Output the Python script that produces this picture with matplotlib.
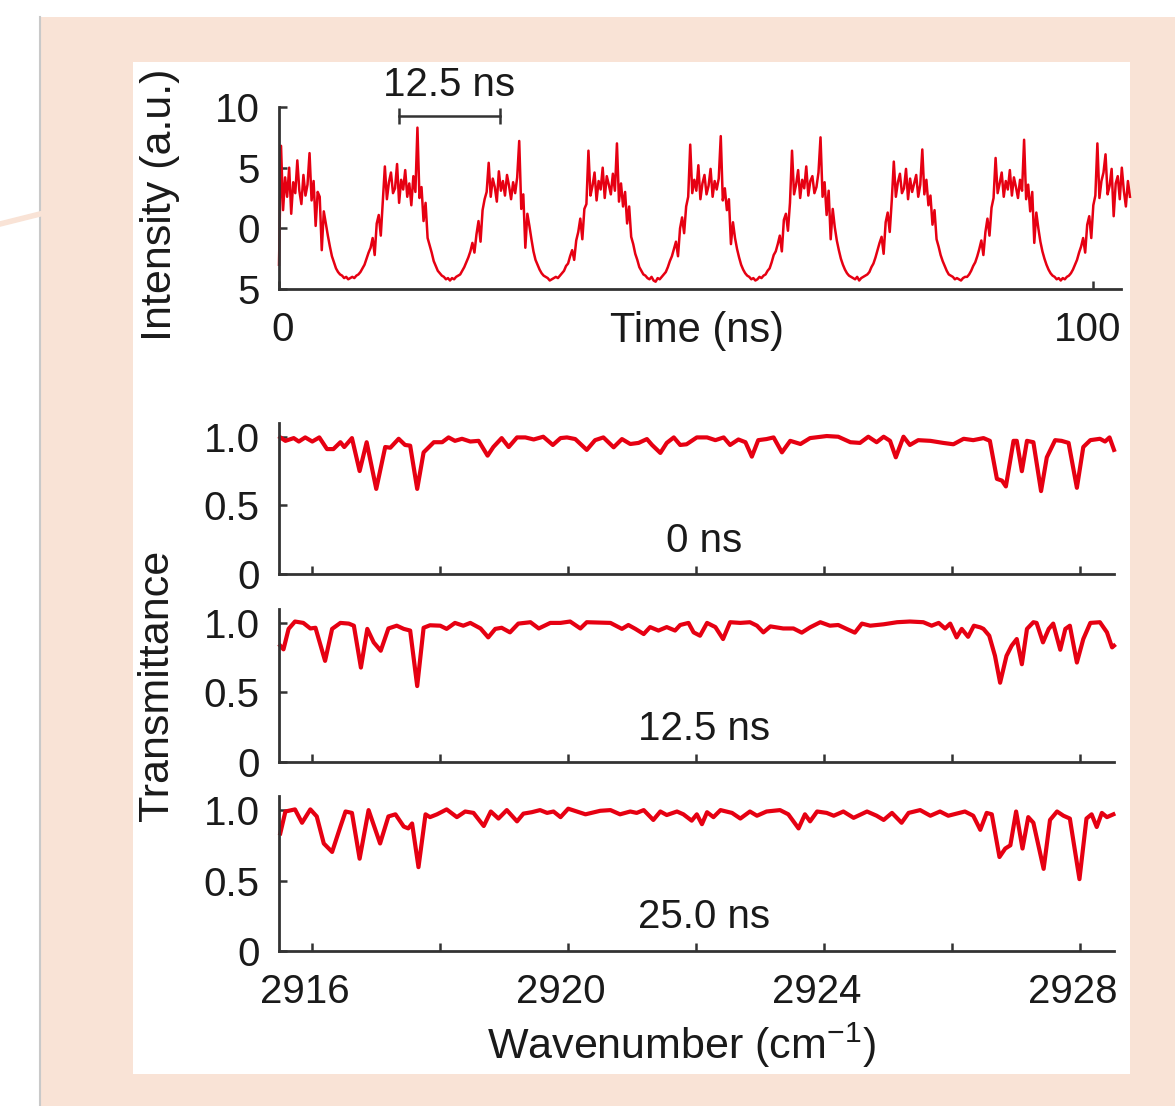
import numpy as np
import matplotlib.pyplot as plt
from matplotlib.patches import Rectangle
from matplotlib.lines import Line2D
from matplotlib.transforms import ScaledTranslation

plt.rcParams['font.family'] = ['Liberation Sans', 'DejaVu Sans']
plt.rcParams['mathtext.fontset'] = 'custom'
plt.rcParams['mathtext.rm'] = 'Liberation Sans'

# time trace, one sample every 0.25 ns
dt = 0.25
intensity = [
    -3.0,
    6.8, 1.5, 4.2, 2.6, 5.0, 1.2, 3.8, 2.9, 5.6, 3.1, 2.0, 4.4, 2.7, 3.6, 6.2, 2.3, 3.9, 0.2, 3.0,
    2.6, -1.8, 1.4, 0.4, -0.6, -1.5, -2.3, -2.8, -3.3, -3.6, -3.8,
    -3.9, -4.1, -4.0, -4.2, -4.1, -4.0, -4.1, -3.9, -3.8,
    -3.6, -3.3, -3.0, -2.5, -2.0, -1.6, -0.8, -2.2, 0.4, 1.1, -0.6, 2.2,
    5.1, 2.4, 3.8, 4.6, 2.9, 3.3, 5.3, 2.1, 4.0, 3.2, 4.8, 2.6, 3.7, 1.9, 4.3, 3.0, 8.3, 2.5,
    3.4, 0.6, 2.1, -0.8, -1.4, -2.0, -2.7, -3.1, -3.5, -3.7, -3.9,
    -4.0, -4.2, -4.1, -4.3, -4.1, -4.2, -4.0, -3.9, -3.8,
    -3.5, -3.2, -2.8, -2.4, -1.9, -1.2, -2.0, -0.5, 0.6, -1.1, 1.5, 2.4,
    3.0, 5.4, 2.6, 4.1, 3.4, 2.2, 4.7, 3.1, 3.9, 2.7, 4.4, 3.5, 2.4, 3.8, 2.9, 4.2, 7.2, 1.6,
    2.8, -1.6, 1.2, 0.2, -0.9, -1.9, -2.6, -3.0, -3.4, -3.7, -3.9,
    -4.0, -4.1, -4.3, -4.2, -4.1, -4.0, -4.1, -3.9, -3.7,
    -3.5, -3.1, -2.9, -2.3, -1.8, -2.6, -1.0, -0.3, 0.8, -0.9, 1.6, 2.0,
    6.4, 2.7, 3.5, 4.6, 2.3, 3.9, 3.2, 5.0, 2.5, 4.3, 3.6, 2.8, 4.5, 3.1, 7.0, 2.2, 3.7, 1.8,
    3.0, 0.4, 1.8, -0.7, -1.3, -2.1, -2.6, -3.2, -3.5, -3.8, -3.9,
    -4.1, -4.2, -4.0, -4.3, -4.4, -4.1, -4.2, -4.0, -3.8,
    -3.6, -3.2, -2.7, -2.3, -1.7, -1.1, -2.3, 0.0, 0.9, -0.4, 1.8, 2.6,
    6.9, 2.9, 4.0, 3.1, 5.2, 2.4, 3.7, 4.4, 2.8, 3.5, 4.9, 2.6, 3.9, 3.2, 4.1, 7.6, 2.3, 3.3,
    1.5, 2.4, -1.3, 0.5, -0.8, -1.7, -2.4, -3.0, -3.4, -3.7, -3.9,
    -4.0, -4.2, -4.1, -4.3, -4.2, -4.0, -4.1, -3.9, -3.8,
    -3.5, -3.3, -2.8, -2.2, -1.9, -1.3, -0.6, -1.9, 0.7, 1.2, -0.2, 2.1,
    6.4, 2.8, 3.6, 4.8, 2.5, 4.0, 3.3, 5.1, 2.7, 3.9, 4.3, 2.9, 3.4, 4.6, 7.5, 2.6, 3.8, 1.1,
    3.1, -0.9, 1.6, 0.1, -1.0, -1.8, -2.5, -3.0, -3.4, -3.7, -3.9,
    -4.0, -4.1, -4.2, -4.0, -4.3, -4.1, -4.0, -3.9, -3.8,
    -3.6, -3.2, -2.9, -2.4, -1.8, -1.2, -0.7, -2.1, 0.5, 1.3, -0.3, 2.3,
    5.5, 2.6, 3.8, 4.5, 2.9, 3.3, 4.9, 2.4, 4.1, 3.0, 3.7, 4.4, 2.6, 3.6, 6.5, 2.8, 4.0, 1.9,
    2.7, 0.3, 1.5, -0.9, -1.5, -2.2, -2.7, -3.1, -3.5, -3.8, -3.9,
    -4.0, -4.2, -4.1, -4.2, -4.3, -4.1, -4.0, -4.0, -3.8,
    -3.5, -3.1, -2.8, -2.3, -1.7, -1.0, -2.2, -0.3, 0.8, -0.6, 1.7, 2.5,
    5.8, 2.9, 3.7, 4.6, 2.6, 3.9, 3.2, 4.8, 2.7, 4.2, 3.4, 2.5, 4.0, 3.1, 7.3, 2.4, 3.6, 1.4,
    3.0, -1.2, 1.3, 0.0, -1.1, -1.9, -2.5, -3.0, -3.4, -3.7, -3.9,
    -4.0, -4.2, -4.1, -4.3, -4.1, -4.2, -4.0, -3.9, -3.7,
    -3.4, -3.0, -2.6, -2.0, -1.5, -0.8, -2.0, 0.3, 1.0, -0.8, 1.9, 2.7,
    7.0, 2.5, 3.9, 4.6, 6.1, 2.8, 3.5, 4.9, 1.0, 3.7, 4.3, 2.4, 5.0, 3.1, 1.8, 3.9, 2.6,
]
time_ns = np.arange(len(intensity)) * dt

# transmittance spectra
wn_0 = [2915.50, 2915.58, 2915.71, 2915.79, 2915.89, 2916.00, 2916.11, 2916.23, 2916.33, 2916.44,
        2916.50, 2916.62, 2916.74, 2916.85, 2917.00, 2917.14, 2917.22, 2917.35, 2917.45, 2917.53,
        2917.64, 2917.74, 2917.90, 2918.03, 2918.13, 2918.23, 2918.34, 2918.47, 2918.60, 2918.74,
        2918.83, 2918.96, 2919.07, 2919.20, 2919.33, 2919.46, 2919.61, 2919.76, 2919.88, 2919.98,
        2920.11, 2920.29, 2920.42, 2920.55, 2920.71, 2920.84, 2920.97, 2921.10, 2921.23, 2921.31,
        2921.44, 2921.54, 2921.65, 2921.75, 2921.85, 2922.01, 2922.17, 2922.30, 2922.43, 2922.53,
        2922.66, 2922.77, 2922.87, 2922.97, 2923.10, 2923.21, 2923.34, 2923.47, 2923.63, 2923.78,
        2924.04, 2924.22, 2924.41, 2924.56, 2924.69, 2924.82, 2924.93, 2925.03, 2925.12, 2925.24,
        2925.34, 2925.47, 2925.66, 2925.86, 2926.02, 2926.18, 2926.33, 2926.49, 2926.59, 2926.70,
        2926.78, 2926.84, 2926.96, 2927.01, 2927.09, 2927.17, 2927.27, 2927.39, 2927.48, 2927.61,
        2927.71, 2927.82, 2927.95, 2928.05, 2928.16, 2928.31, 2928.39, 2928.46, 2928.53]
tr_0 = [0.995, 0.97, 0.99, 0.965, 0.995, 0.965, 0.995, 0.91, 0.91, 0.96,
        0.925, 0.99, 0.75, 0.96, 0.62, 0.925, 0.92, 0.985, 0.94, 0.935,
        0.62, 0.886, 0.96, 0.96, 0.995, 0.97, 0.985, 0.965, 0.97, 0.862,
        0.925, 0.99, 0.925, 0.995, 0.995, 0.98, 1.0, 0.94, 0.99, 0.995,
        0.983, 0.904, 0.975, 0.995, 0.923, 0.983, 0.947, 0.955, 0.983, 0.94,
        0.882, 0.955, 0.995, 0.94, 0.945, 0.995, 0.995, 0.975, 0.995, 0.94,
        0.98, 0.96, 0.855, 0.975, 0.983, 0.995, 0.886, 0.97, 0.947, 0.99,
        1.005, 1.0, 0.96, 0.955, 1.0, 0.96, 1.0, 0.97, 0.85, 1.0,
        0.94, 0.975, 0.97, 0.955, 0.945, 0.985, 0.975, 0.99, 0.97, 0.693,
        0.68, 0.638, 0.97, 0.97, 0.749, 0.97, 0.96, 0.604, 0.85, 0.975,
        0.97, 0.955, 0.628, 0.925, 0.975, 0.985, 0.965, 0.995, 0.904]

wn_125 = [2915.50, 2915.55, 2915.63, 2915.73, 2915.86, 2915.97, 2916.05, 2916.20, 2916.31, 2916.44,
          2916.57, 2916.65, 2916.76, 2916.86, 2916.96, 2917.07, 2917.19, 2917.32, 2917.43, 2917.53,
          2917.64, 2917.74, 2917.84, 2918.00, 2918.10, 2918.23, 2918.36, 2918.47, 2918.63, 2918.75,
          2918.86, 2918.96, 2919.09, 2919.22, 2919.41, 2919.54, 2919.72, 2919.88, 2920.03, 2920.19,
          2920.29, 2920.66, 2920.84, 2920.94, 2921.05, 2921.18, 2921.28, 2921.41, 2921.54, 2921.67,
          2921.75, 2921.88, 2921.96, 2922.06, 2922.17, 2922.30, 2922.42, 2922.53, 2922.69, 2922.84,
          2922.95, 2923.05, 2923.16, 2923.36, 2923.52, 2923.65, 2923.78, 2923.94, 2924.09, 2924.22,
          2924.35, 2924.48, 2924.59, 2924.72, 2924.93, 2925.14, 2925.34, 2925.55, 2925.68, 2925.79,
          2925.89, 2925.97, 2926.07, 2926.15, 2926.25, 2926.34, 2926.44, 2926.49, 2926.58, 2926.67,
          2926.75, 2926.85, 2926.93, 2927.01, 2927.09, 2927.17, 2927.27, 2927.32, 2927.42, 2927.51,
          2927.58, 2927.69, 2927.77, 2927.84, 2927.95, 2928.05, 2928.16, 2928.31, 2928.42, 2928.50,
          2928.53]
tr_125 = [0.836, 0.81, 0.957, 1.01, 1.0, 0.96, 0.965, 0.727, 0.957, 1.0,
          0.995, 0.98, 0.679, 0.957, 0.86, 0.8, 0.96, 0.98, 0.957, 0.945,
          0.546, 0.965, 0.983, 0.98, 0.957, 1.0, 0.98, 1.0, 0.96, 0.896,
          0.957, 0.965, 0.932, 0.995, 1.005, 0.96, 1.0, 1.0, 1.01, 0.96,
          1.005, 1.0, 0.957, 0.985, 0.957, 0.92, 0.97, 0.945, 0.97, 0.945,
          0.985, 1.0, 0.932, 0.908, 1.0, 0.97, 0.884, 1.005, 1.0, 1.005,
          0.98, 0.932, 0.975, 0.96, 0.96, 0.93, 0.968, 1.005, 0.98, 0.985,
          0.957, 0.93, 0.995, 0.98, 0.99, 1.005, 1.01, 1.005, 0.98, 1.0,
          0.96, 0.995, 0.896, 0.957, 0.9, 0.98, 0.968, 0.957, 0.908, 0.763,
          0.57, 0.763, 0.836, 0.884, 0.703, 0.957, 1.005, 1.0, 0.86, 0.957,
          0.995, 0.807, 0.957, 0.98, 0.715, 0.884, 1.0, 1.005, 0.932, 0.824,
          0.836]

wn_250 = [2915.50, 2915.58, 2915.73, 2915.84, 2915.97, 2916.07, 2916.18, 2916.31, 2916.44, 2916.52,
          2916.62, 2916.74, 2916.88, 2917.06, 2917.19, 2917.30, 2917.43, 2917.50, 2917.56, 2917.66,
          2917.77, 2917.84, 2917.95, 2918.10, 2918.26, 2918.39, 2918.52, 2918.68, 2918.79, 2918.91,
          2919.04, 2919.20, 2919.30, 2919.43, 2919.56, 2919.67, 2919.77, 2919.88, 2920.00, 2920.27,
          2920.50, 2920.66, 2920.81, 2920.97, 2921.07, 2921.18, 2921.33, 2921.44, 2921.54, 2921.70,
          2921.80, 2921.93, 2922.01, 2922.09, 2922.17, 2922.27, 2922.38, 2922.56, 2922.69, 2922.84,
          2922.95, 2923.10, 2923.31, 2923.44, 2923.60, 2923.70, 2923.78, 2923.89, 2924.04, 2924.15,
          2924.30, 2924.46, 2924.67, 2924.82, 2924.93, 2925.06, 2925.21, 2925.32, 2925.50, 2925.66,
          2925.81, 2925.94, 2926.20, 2926.33, 2926.44, 2926.54, 2926.62, 2926.74, 2926.83, 2926.91,
          2927.00, 2927.10, 2927.19, 2927.27, 2927.43, 2927.53, 2927.64, 2927.74, 2927.84, 2927.99,
          2928.10, 2928.18, 2928.26, 2928.34, 2928.42, 2928.52]
tr_250 = [0.835, 0.99, 1.005, 0.91, 1.005, 0.955, 0.763, 0.703, 0.883, 0.99,
          0.98, 0.655, 1.0, 0.763, 0.955, 0.97, 0.883, 0.87, 0.905, 0.595,
          0.97, 0.95, 0.97, 1.005, 0.95, 0.99, 0.98, 0.887, 0.99, 0.94,
          1.0, 0.92, 0.975, 0.985, 1.0, 0.98, 0.99, 0.95, 1.01, 0.97,
          0.995, 1.0, 0.97, 0.99, 0.98, 1.0, 0.93, 0.99, 0.965, 0.99,
          0.97, 0.925, 0.97, 0.9, 0.985, 0.95, 1.0, 0.98, 0.94, 0.99,
          0.96, 0.99, 1.0, 0.97, 0.87, 0.97, 0.92, 0.99, 0.98, 0.96,
          0.99, 0.945, 0.99, 0.96, 0.93, 0.98, 0.91, 0.98, 1.0, 0.96,
          0.99, 0.96, 0.99, 0.96, 0.86, 0.98, 0.97, 0.667, 0.727, 0.75,
          0.99, 0.727, 0.95, 0.91, 0.583, 0.93, 0.99, 0.96, 0.94, 0.51,
          0.94, 0.97, 0.88, 0.98, 0.95, 0.97]

spectra = [(wn_0, tr_0, '0 ns'), (wn_125, tr_125, '12.5 ns'), (wn_250, tr_250, '25.0 ns')]

RED = '#e60012'
INK = '#333333'
PEACH = '#f9e3d6'
W, H = 1175, 1106


def rect(left, top, right, bottom):
    return [left / W, 1 - bottom / H, (right - left) / W, (bottom - top) / H]


fig = plt.figure(figsize=(W / 100, H / 100), dpi=100)
fig.patch.set_facecolor('white')
fig.patches.append(Rectangle((40 / W, 0), 1, 1 - 17 / H, transform=fig.transFigure,
                             facecolor=PEACH, edgecolor='none', zorder=-3))
fig.lines.append(Line2D([40 / W, 40 / W], [0, 1 - 17 / H], transform=fig.transFigure,
                        color='#c9c9c9', lw=1.5, zorder=-2))
fig.lines.append(Line2D([0, 40 / W], [1 - 224 / H, 1 - 214 / H], transform=fig.transFigure,
                        color=PEACH, lw=4, zorder=-2))
fig.patches.append(Rectangle((133 / W, 1 - 1074 / H), (1130 - 133) / W, (1074 - 62) / H,
                             transform=fig.transFigure, facecolor='white',
                             edgecolor='none', zorder=-1))


def style(ax):
    for s in ['top', 'right']:
        ax.spines[s].set_visible(False)
    for s in ['left', 'bottom']:
        ax.spines[s].set_color(INK)
        ax.spines[s].set_linewidth(2)
    ax.set_facecolor('none')
    ax.tick_params(which='both', direction='in', length=6, width=1.8, color=INK,
                   labelsize=29, labelcolor='#1a1a1a')
    ax.tick_params(axis='y', pad=14)
    ax.tick_params(axis='x', pad=16)


def nudge(label, px):
    label.set_transform(label.get_transform() + ScaledTranslation(px / 100, 0, fig.dpi_scale_trans))


# top: time trace
ax0 = fig.add_axes(rect(279, 107, 1121, 289))
style(ax0)
ax0.plot(time_ns, intensity, color=RED, lw=1.8, clip_on=False)
ax0.set_xlim(0, 103.4)
ax0.set_ylim(-5, 10)
ax0.set_yticks([-5, 0, 5, 10], ['5', '0', '5', '10'])
ax0.set_xticks([0, 100], ['0', '100'])
xl = ax0.get_xticklabels()
nudge(xl[0], 4)
nudge(xl[1], -6)
ax0.plot([14.74, 27.15], [9.26, 9.26], color=INK, lw=1.8)
ax0.plot([14.74, 27.15], [9.26, 9.26], ls='none', marker='|', ms=11, mew=1.8, color=INK)
ax0.text(20.9, 11.8, '12.5 ns', fontsize=29, ha='center', va='center', color='#1a1a1a')

# spectra
boxes = [(423, 574), (609, 762), (796, 951)]
axes = []
for (top, bottom), (wn, tr, lab) in zip(boxes, spectra):
    ax = fig.add_axes(rect(279, top, 1114, bottom))
    style(ax)
    ax.plot(wn, tr, color=RED, lw=3.0, solid_joinstyle='round', clip_on=False)
    ax.set_xlim(2915.48, 2928.53)
    ax.set_ylim(0, 1.1)
    ax.set_yticks([0, 0.5, 1.0], ['0', '0.5', '1.0'])
    ax.set_xticks([2916, 2920, 2924, 2928])
    ax.set_xticks([2918, 2922, 2926], minor=True)
    ax.text(2922.12, 0.24, lab, fontsize=29, ha='center', va='center', color='#1a1a1a')
    axes.append(ax)

for ax in axes[:2]:
    ax.tick_params(axis='x', labelbottom=False)
for lbl in axes[2].get_xticklabels():
    nudge(lbl, -7)

fig.text(697 / W, 1 - 331 / H, 'Time (ns)', fontsize=30, ha='center', va='center', color='#1a1a1a')
fig.text(681 / W, 1 - 1045 / H, 'Wavenumber (cm$^{-1}$)', fontsize=31, ha='center', va='center',
         color='#1a1a1a')
fig.text(160 / W, 1 - 205 / H, 'Intensity (a.u.)', fontsize=31, rotation=90, ha='center',
         va='center', color='#1a1a1a')
fig.text(157 / W, 1 - 685 / H, 'Transmittance', fontsize=31, rotation=90, ha='center',
         va='center', color='#1a1a1a')

fig.savefig('out.png', dpi=100, facecolor=fig.get_facecolor())
